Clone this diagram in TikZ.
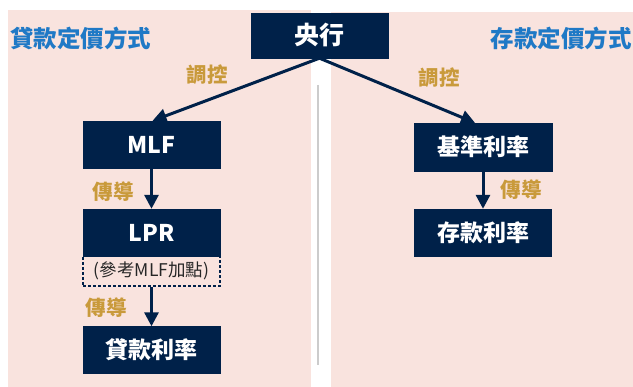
\documentclass[tikz,border=0pt]{standalone}
\usepackage{fontspec}
\setmainfont{Noto Sans CJK TC}
\usetikzlibrary{arrows.meta}
\definecolor{navy}{HTML}{002149}
\definecolor{pinkbg}{HTML}{F9E3DE}
\definecolor{ttlblue}{HTML}{1F79C6}
\definecolor{gold}{HTML}{C99A3B}
\tikzset{
  box/.style={fill=navy, draw=navy, text=white, minimum width=137pt, minimum height=47pt, inner sep=0pt, font=\fontsize{23}{25}\selectfont\bfseries},
  ttl/.style={text=ttlblue, inner sep=0pt, font=\fontsize{23.5}{26}\selectfont\bfseries},
  lbl/.style={text=gold, inner sep=0pt, font=\fontsize{20.5}{22}\selectfont\bfseries},
  arr/.style={draw=navy, line width=3pt, -{Triangle[length=14pt,width=14pt]}},
}
\begin{document}
\begin{tikzpicture}[x=1pt,y=-1pt]
\useasboundingbox (0,0) rectangle (633,387);
\fill[white] (0,0) rectangle (633,387);
\fill[pinkbg] (8,10) rectangle (311,387);
\fill[pinkbg] (331,12) rectangle (633,387);
\coordinate (g1) at (318,85);
\coordinate (g2) at (318,365);
\draw[gray!40, line width=1.3pt] (g1) -- (g2);

\node[ttl] (tl) at (81,38) {貸款定價方式};
\node[ttl] (tr) at (561,38) {存款定價方式};

\node[box, minimum width=137pt, minimum height=45pt, font=\fontsize{25}{27}\selectfont\bfseries] (c) at (319.5,35.5) {央行};

\node[box] (mlf) at (151.5,144.5) {MLF};
\node[box] (lpr) at (151.5,232.5) {LPR};
\node[draw=navy, dash pattern=on 3pt off 2pt, line width=1.3pt, minimum width=137pt, minimum height=30pt, inner sep=0pt, text=black!85, font=\fontsize{17.5}{19}\selectfont] (ref) at (151.5,271) {(參考MLF加點)};
\node[box] (loan) at (151.5,350) {貸款利率};

\node[box, minimum width=138pt, minimum height=48pt] (base) at (483,147) {基準利率};
\node[box] (dep) at (483,232.5) {存款利率};

\draw[arr] (c.south) -- ([xshift=1pt]mlf.north);
\draw[arr] (c.south) -- ([xshift=-8pt]base.north);
\draw[arr] (mlf.south) -- (lpr.north);
\draw[arr] (ref.south) -- (loan.north);
\draw[arr] (base.south) -- (dep.north);

\node[lbl] (l1) at (207,75) {調控};
\node[lbl] (l2) at (439,78) {調控};
\node[lbl] (l3) at (113,192) {傳導};
\node[lbl] (l4) at (106,308) {傳導};
\node[lbl] (l5) at (521,190) {傳導};
\end{tikzpicture}
\end{document}
